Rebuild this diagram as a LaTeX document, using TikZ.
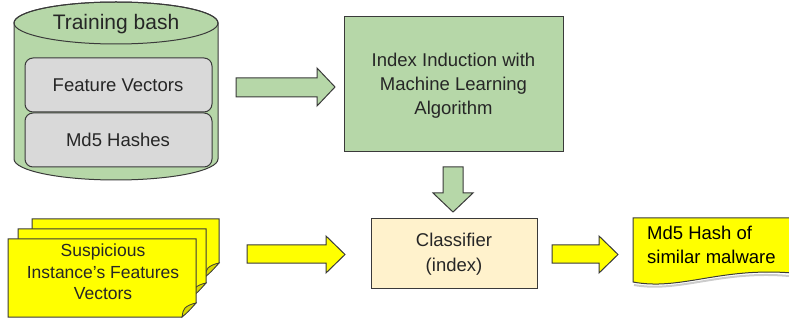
\documentclass[tikz,border=0pt]{standalone}
\usepackage{fontspec}
\setmainfont{Liberation Sans}
\definecolor{cgreen}{HTML}{B6D7A8}
\definecolor{cgray}{HTML}{D9D9D9}
\definecolor{ccream}{HTML}{FFF2CC}
\definecolor{cyel}{HTML}{FFFF00}
\definecolor{cfold}{HTML}{D8D800}
\definecolor{cline}{HTML}{3A3A3A}
\definecolor{ctext}{HTML}{262626}
\begin{document}
\begin{tikzpicture}[x=1pt,y=-1pt,
  outl/.style={draw=cline,line width=1pt,line join=miter},
  lbl/.style={text=ctext,align=center,font=\fontsize{18.5}{24}\selectfont,inner sep=0pt}]
\useasboundingbox (0,0) rectangle (789,320);
% cylinder
\draw[outl,fill=cgreen] (14,23) -- (14,159) arc[start angle=180,end angle=360,x radius=102pt,y radius=21pt] -- (218,23) arc[start angle=0,end angle=180,x radius=102pt,y radius=21pt] -- cycle;
\draw[outl] (116,23) ellipse [x radius=102pt,y radius=21pt];
\node[lbl,font=\fontsize{21}{24}\selectfont] (train) at (116,24) {Training bash};
\draw[outl,fill=cgray,rounded corners=8pt] (25,58) rectangle (212,112);
\node[lbl] (fv) at (118,85) {Feature Vectors};
\draw[outl,fill=cgray,rounded corners=8pt] (25,113) rectangle (212,167);
\node[lbl] (md5h) at (118,140) {Md5 Hashes};
% green box
\node[outl,fill=cgreen,minimum width=219pt,minimum height=135pt,inner sep=0pt] (induct) at (453.5,84.5) {};
\node[lbl] (inducttext) at (453.5,86) {Index Induction with\\Machine Learning\\Algorithm};
% classifier
\node[outl,fill=ccream,minimum width=166pt,minimum height=69pt,inner sep=0pt] (clf) at (454,253.5) {};
\node[lbl,font=\fontsize{18.5}{25}\selectfont] (clftext) at (454,254.5) {Classifier\\(index)};
% block arrows
\draw[outl,fill=cgreen] (236,78) -- (317,78) -- (317,68) -- (335,87) -- (317,106) -- (317,97) -- (236,97) -- cycle;
\draw[outl,fill=cgreen] (443,167) -- (463,167) -- (463,193) -- (473,193) -- (453,212) -- (433,193) -- (443,193) -- cycle;
\draw[outl,fill=cyel] (247,245) -- (326,245) -- (326,236) -- (345,254.5) -- (326,273) -- (326,263) -- (247,263) -- cycle;
\draw[outl,fill=cyel] (552,245) -- (599,245) -- (599,236) -- (618,254.5) -- (599,273) -- (599,263) -- (552,263) -- cycle;
% stacked pages
\foreach \l/\t/\r/\b in {32/219/219/277, 18/229/206/297, 8/239/196/317}{
  \draw[outl,fill=cyel] (\l,\t) -- (\r,\t) -- (\r,\b-14) -- (\r-14,\b) -- (\l,\b) -- cycle;
  \draw[outl,fill=cfold,line width=0.8pt] (\r,\b-14) .. controls (\r-5,\b-13) and (\r-9,\b-11) .. (\r-11,\b-9) .. controls (\r-13,\b-6) .. (\r-14,\b) .. controls (\r-8,\b-5) .. (\r,\b-14) -- cycle;
}
\node[lbl,font=\fontsize{17.5}{21.5}\selectfont] (susp) at (103,272) {Suspicious\\Instance\char"0027 s Features\\Vectors};
% md5 document
\draw[gray!40,line width=2pt] (634,285) .. controls (680,293) and (720,270) .. (789,276);
\draw[outl,fill=cyel] (633,218) -- (792,218) -- (792,273) .. controls (720,267) and (680,291) .. (633,282) -- cycle;
\node[lbl,align=left,anchor=west,text=black] (md5out) at (647,245) {Md5 Hash of\\similar malware};
\end{tikzpicture}
\end{document}
